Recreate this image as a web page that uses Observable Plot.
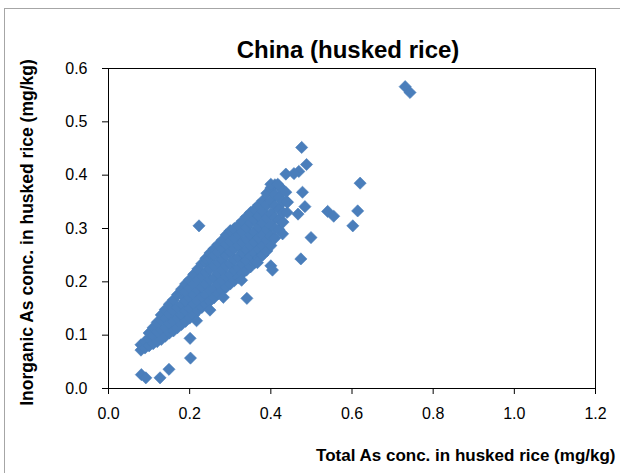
<!DOCTYPE html>
<html>
<head>
<meta charset="utf-8">
<script src="https://cdn.jsdelivr.net/npm/d3@7"></script>
<script src="https://cdn.jsdelivr.net/npm/@observablehq/plot@0.6"></script>
<style>
  body { margin: 0; background: #fff; }
  #wrap { position: relative; width: 620px; height: 473px; overflow: hidden; }
  #border { position: absolute; left: 4px; top: 8px; width: 700px; height: 600px; border: 1px solid #a6a6a6; pointer-events: none; }
  #wrap svg { position: absolute; left: 0; top: 0; }
</style>
</head>
<body>
<div id="wrap"><div id="border"></div></div>
<script>
// Labels
const titleText = "China (husked rice)";
const xLabel = "Total As conc. in husked rice (mg/kg)";
const yLabel = "Inorganic As conc. in husked rice (mg/kg)";
const xTicks = [0, 0.2, 0.4, 0.6, 0.8, 1.0, 1.2];
const yTicks = [0, 0.1, 0.2, 0.3, 0.4, 0.5, 0.6];

// Dense band of samples: [total As, inorganic As] (mg/kg)
const band = [
  [0.08,0.072],[0.08,0.082],
  [0.09,0.076],[0.09,0.088],
  [0.10,0.080],[0.10,0.094],[0.10,0.104],
  [0.11,0.084],[0.11,0.099],[0.11,0.114],
  [0.12,0.088],[0.12,0.106],[0.12,0.124],
  [0.13,0.092],[0.13,0.110],[0.13,0.128],[0.13,0.138],
  [0.14,0.098],[0.14,0.114],[0.14,0.132],[0.14,0.148],
  [0.15,0.104],[0.15,0.122],[0.15,0.140],[0.15,0.158],
  [0.16,0.108],[0.16,0.126],[0.16,0.146],[0.16,0.166],
  [0.17,0.114],[0.17,0.132],[0.17,0.152],[0.17,0.176],
  [0.18,0.120],[0.18,0.138],[0.18,0.158],[0.18,0.176],[0.18,0.186],
  [0.19,0.126],[0.19,0.146],[0.19,0.164],[0.19,0.182],[0.19,0.196],
  [0.20,0.132],[0.20,0.150],[0.20,0.170],[0.20,0.188],[0.20,0.204],
  [0.21,0.138],[0.21,0.158],[0.21,0.176],[0.21,0.196],[0.21,0.214],
  [0.22,0.146],[0.22,0.164],[0.22,0.184],[0.22,0.204],[0.22,0.224],
  [0.23,0.152],[0.23,0.172],[0.23,0.190],[0.23,0.210],[0.23,0.234],
  [0.24,0.158],[0.24,0.176],[0.24,0.196],[0.24,0.218],[0.24,0.236],[0.24,0.244],
  [0.25,0.164],[0.25,0.184],[0.25,0.204],[0.25,0.224],[0.25,0.244],[0.25,0.254],
  [0.26,0.170],[0.26,0.188],[0.26,0.208],[0.26,0.230],[0.26,0.250],[0.26,0.262],
  [0.27,0.178],[0.27,0.196],[0.27,0.216],[0.27,0.236],[0.27,0.256],[0.27,0.270],
  [0.28,0.184],[0.28,0.202],[0.28,0.222],[0.28,0.242],[0.28,0.262],[0.28,0.278],
  [0.29,0.190],[0.29,0.210],[0.29,0.230],[0.29,0.250],[0.29,0.270],[0.29,0.288],
  [0.30,0.196],[0.30,0.214],[0.30,0.234],[0.30,0.256],[0.30,0.276],[0.30,0.296],
  [0.31,0.202],[0.31,0.222],[0.31,0.242],[0.31,0.262],[0.31,0.282],[0.31,0.300],
  [0.32,0.208],[0.32,0.226],[0.32,0.246],[0.32,0.268],[0.32,0.288],[0.32,0.306],
  [0.33,0.216],[0.33,0.234],[0.33,0.254],[0.33,0.274],[0.33,0.294],[0.33,0.314],
  [0.34,0.222],[0.34,0.240],[0.34,0.260],[0.34,0.280],[0.34,0.302],[0.34,0.322],
  [0.35,0.228],[0.35,0.248],[0.35,0.268],[0.35,0.288],[0.35,0.310],[0.35,0.330],
  [0.36,0.236],[0.36,0.254],[0.36,0.274],[0.36,0.294],[0.36,0.316],[0.36,0.336],
  [0.37,0.244],[0.37,0.262],[0.37,0.282],[0.37,0.302],[0.37,0.324],[0.37,0.344],
  [0.38,0.250],[0.38,0.268],[0.38,0.288],[0.38,0.310],[0.38,0.332],[0.38,0.352],
  [0.39,0.258],[0.39,0.278],[0.39,0.298],[0.39,0.320],[0.39,0.344],[0.39,0.366],
  [0.40,0.268],[0.40,0.286],[0.40,0.306],[0.40,0.328],[0.40,0.352],[0.40,0.376],
  [0.41,0.282],[0.41,0.300],[0.41,0.320],[0.41,0.342],[0.41,0.364],[0.41,0.382],
  [0.42,0.298],[0.42,0.316],[0.42,0.336],[0.42,0.358],[0.42,0.380],
  [0.43,0.312],[0.43,0.330],[0.43,0.350],[0.43,0.372],
  [0.44,0.330],[0.44,0.350]
];

// Scattered samples away from the band
const scattered = [
  [0.731,0.566],[0.743,0.555],
  [0.476,0.452],[0.488,0.420],[0.469,0.407],[0.457,0.403],[0.437,0.402],
  [0.400,0.383],[0.417,0.383],[0.478,0.368],[0.437,0.368],[0.441,0.349],
  [0.484,0.341],[0.467,0.327],[0.540,0.332],[0.555,0.323],
  [0.620,0.385],[0.614,0.333],[0.602,0.305],[0.499,0.283],[0.429,0.290],
  [0.474,0.243],[0.400,0.230],[0.404,0.222],[0.367,0.236],[0.328,0.203],
  [0.341,0.169],[0.283,0.171],[0.250,0.147],[0.217,0.127],[0.201,0.094],
  [0.202,0.057],[0.149,0.036],[0.127,0.020],[0.081,0.026],[0.092,0.020],
  [0.223,0.305]
];

const points = band.concat(scattered).map(([t, i]) => ({total: t, inorganic: i}));

const font = "'Liberation Sans', Arial, sans-serif";

const chart = Plot.plot({
  width: 620,
  height: 473,
  marginLeft: 108,
  marginRight: 25,
  marginTop: 68,
  marginBottom: 85,
  style: {fontFamily: font, fontSize: "16px", background: "transparent", color: "#000", overflow: "visible"},
  x: {domain: [0, 1.2], ticks: xTicks, tickFormat: d3.format(".1f"), tickSize: 6, tickPadding: 13, label: null},
  y: {domain: [0, 0.6], ticks: yTicks, tickFormat: d3.format(".1f"), tickSize: 6, tickPadding: 15, label: null},
  marks: [
    Plot.dot(points, {x: "total", y: "inorganic", symbol: "diamond2", r: 5.5, fill: "#4a7ebb", stroke: "#4a7ebb", strokeWidth: 0.6}),
    Plot.frame({stroke: "#000", strokeWidth: 1}),
    Plot.text([titleText], {frameAnchor: "top", dx: -4, dy: -28, fontSize: 24, fontWeight: "bold", fill: "#000"}),
    Plot.text([yLabel], {frameAnchor: "left", textAnchor: "middle", rotate: -90, dx: -81, dy: 4, fontSize: 17.5, fontWeight: "bold", fill: "#000"}),
    Plot.text([xLabel], {frameAnchor: "bottom-right", textAnchor: "end", dx: 20, dy: 72, fontSize: 17, fontWeight: "bold", fill: "#000"})
  ]
});

document.getElementById("wrap").prepend(chart);
</script>
</body>
</html>
